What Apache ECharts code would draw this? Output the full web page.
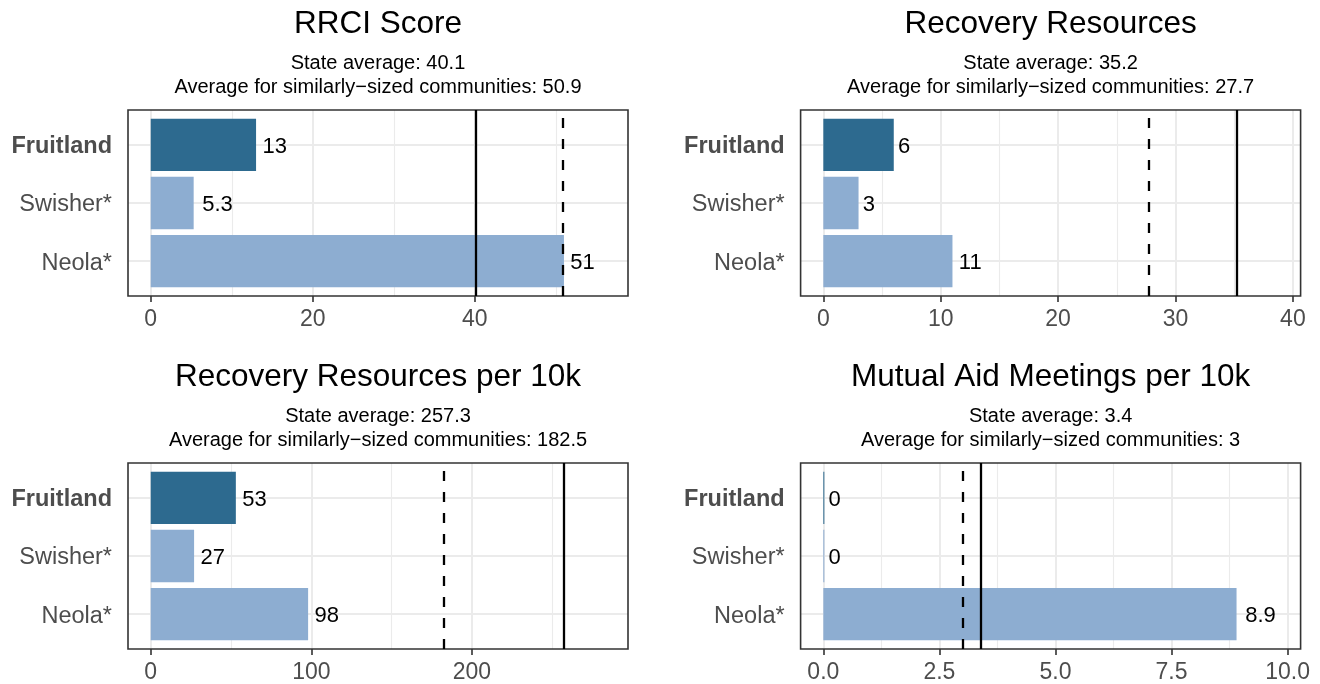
<!DOCTYPE html>
<html>
<head>
<meta charset="utf-8">
<script src="https://cdn.jsdelivr.net/npm/echarts@6/dist/echarts.min.js"></script>
<style>
html,body{margin:0;padding:0;background:#fff;}
#chart{width:1320px;height:684px;}
</style>
</head>
<body>
<div id="chart"></div>
<script>
// ---------- data ----------
const categories = ['Fruitland', 'Swisher*', 'Neola*'];
const panelTitles = ['RRCI Score', 'Recovery Resources', 'Recovery Resources per 10k', 'Mutual Aid Meetings per 10k'];
const rrciValues = [13, 5.3, 51];
const resourcesValues = [6, 3, 11];
const resourcesPer10kValues = [53, 27, 98];
const meetingsPer10kValues = [0, 0, 8.9];
const stateAverages = [40.1, 35.2, 257.3, 3.4];
const similarAverages = [50.9, 27.7, 182.5, 3];
const majorTicks = [[0, 20, 40], [0, 10, 20, 30, 40], [0, 100, 200], [0, 2.5, 5, 7.5, 10]];
const minorTicks = [[10, 30, 50], [5, 15, 25, 35], [50, 150, 250], [1.25, 3.75, 6.25, 8.75]];
const tickLabels = [['0', '20', '40'], ['0', '10', '20', '30', '40'], ['0', '100', '200'], ['0.0', '2.5', '5.0', '7.5', '10.0']];

const seriesValues = [rrciValues, resourcesValues, resourcesPer10kValues, meetingsPer10kValues];

// ---------- layout / style ----------
const FONT = "'Liberation Sans', Arial, Helvetica, sans-serif";
const panelLeft = [128, 800.6, 128, 800.6];
const panelTop = [110, 110, 463, 463];
const panelW = 500, panelH = 186;
const darkBlue = '#2D6A8F', lightBlue = '#8DADD1';

const grids = [], xAxes = [], yAxes = [], series = [], graphics = [];

for (let p = 0; p < 4; p++) {
  const vals = seriesValues[p];
  const L = 1.1 * Math.max(...vals, stateAverages[p], similarAverages[p]);
  const xmin = -0.05 * L, xmax = 1.05 * L;
  const gOuter = 2 * p, gInner = 2 * p + 1;
  const innerTop = panelTop[p] + panelH * 0.1 / 3.2;
  const innerH = panelH * 3 / 3.2;

  grids.push({
    left: panelLeft[p], top: panelTop[p], width: panelW, height: panelH,
    show: true, borderColor: '#333333', borderWidth: 1.6, backgroundColor: 'transparent',
    z: 3, outerBoundsMode: 'none', containLabel: false
  });
  grids.push({
    left: panelLeft[p], top: innerTop, width: panelW, height: innerH,
    show: false, outerBoundsMode: 'none', containLabel: false
  });

  const ticks = majorTicks[p], labs = tickLabels[p];
  xAxes.push({
    type: 'value', gridIndex: gOuter, min: xmin, max: xmax,
    axisLine: { show: false },
    axisTick: { show: true, customValues: ticks, length: 6, lineStyle: { color: '#333333', width: 1.6 } },
    axisLabel: {
      show: true, customValues: ticks, margin: 12, color: '#4d4d4d', fontSize: 23, fontFamily: FONT,
      formatter: function (v) {
        const i = ticks.findIndex(t => Math.abs(t - v) < 1e-9);
        return i >= 0 ? labs[i] : '';
      }
    },
    splitLine: { show: false }, minorSplitLine: { show: false }
  });
  xAxes.push({ type: 'value', gridIndex: gInner, min: xmin, max: xmax, show: false, splitLine: { show: false } });

  yAxes.push({ type: 'value', gridIndex: gOuter, min: 0, max: 1, show: false, splitLine: { show: false } });
  yAxes.push({
    type: 'category', gridIndex: gInner, data: categories, inverse: true,
    axisLine: { show: false },
    axisTick: { show: true, alignWithLabel: true, length: 6, lineStyle: { color: '#333333', width: 1.6 } },
    axisLabel: {
      interval: 0, margin: 16,
      formatter: function (v, i) { return i === 0 ? '{b|' + v + '}' : '{n|' + v + '}'; },
      rich: {
        b: { fontWeight: 'bold', fontSize: 23.5, color: '#4d4d4d', fontFamily: FONT, padding: [4, 0, 0, 0] },
        n: { fontSize: 23.5, color: '#4d4d4d', fontFamily: FONT, padding: [4, 0, 0, 0] }
      }
    },
    splitLine: { show: false }
  });

  // vertical grid lines (major + minor)
  series.push({
    type: 'line', xAxisIndex: gOuter, yAxisIndex: gOuter, data: [], silent: true,
    markLine: {
      silent: true, z: 1, symbol: ['none', 'none'], label: { show: false }, animation: false,
      emphasis: { disabled: true },
      data: minorTicks[p].map(v => ({ xAxis: v, lineStyle: { color: '#ebebeb', width: 1.1, type: 'solid' } }))
        .concat(ticks.map(v => ({ xAxis: v, lineStyle: { color: '#ebebeb', width: 2, type: 'solid' } })))
    }
  });
  // horizontal grid lines at categories
  series.push({
    type: 'line', xAxisIndex: gInner, yAxisIndex: gInner, data: [], silent: true,
    markLine: {
      silent: true, z: 1, symbol: ['none', 'none'], label: { show: false }, animation: false,
      emphasis: { disabled: true },
      data: categories.map((c, i) => ({ yAxis: i, lineStyle: { color: '#ebebeb', width: 2, type: 'solid' } }))
    }
  });
  // bars
  series.push({
    type: 'bar', xAxisIndex: gInner, yAxisIndex: gInner, barWidth: '90%', barMinHeight: 1, z: 2,
    silent: true, animation: false,
    data: vals.map((v, i) => {
      const txt = String(Number(v.toPrecision(2)));
      return {
        value: v,
        itemStyle: { color: i === 0 ? darkBlue : lightBlue },
        label: { distance: 2 + 2.2 * txt.length }
      };
    }),
    label: {
      show: true, position: 'right', color: '#000', fontSize: 22, fontFamily: FONT, offset: [0, 2],
      formatter: function (d) { return String(Number(Number(d.value).toPrecision(2))); }
    }
  });
  // reference lines
  series.push({
    type: 'line', xAxisIndex: gOuter, yAxisIndex: gOuter, data: [], silent: true,
    markLine: {
      silent: true, z: 6, symbol: ['none', 'none'], label: { show: false }, animation: false,
      emphasis: { disabled: true },
      data: [
        { xAxis: stateAverages[p], lineStyle: { color: '#000', width: 2.3, type: 'solid' } },
        { xAxis: similarAverages[p], lineStyle: { color: '#000', width: 2.3, type: [10, 11] } }
      ]
    }
  });

  // titles
  const cx = panelLeft[p] + panelW / 2;
  const dy = panelTop[p] - 110;
  graphics.push({
    type: 'text', x: cx, y: 24 + dy, silent: true,
    style: { text: panelTitles[p], fontSize: 31.5, fontFamily: FONT, fill: '#000',
      align: 'center', verticalAlign: 'middle', textAlign: 'center', textVerticalAlign: 'middle' }
  });
  graphics.push({
    type: 'text', x: cx, y: 63.5 + dy, silent: true,
    style: { text: 'State average: ' + stateAverages[p], fontSize: 20, fontFamily: FONT, fill: '#000',
      align: 'center', verticalAlign: 'middle', textAlign: 'center', textVerticalAlign: 'middle' }
  });
  graphics.push({
    type: 'text', x: cx, y: 87 + dy, silent: true,
    style: { text: 'Average for similarly\u2212sized communities: ' + similarAverages[p], fontSize: 20, fontFamily: FONT, fill: '#000',
      align: 'center', verticalAlign: 'middle', textAlign: 'center', textVerticalAlign: 'middle' }
  });
}

const chart = echarts.init(document.getElementById('chart'), null, { renderer: 'canvas' });
chart.setOption({
  animation: false,
  backgroundColor: '#ffffff',
  grid: grids,
  xAxis: xAxes,
  yAxis: yAxes,
  series: series,
  graphic: graphics
});
</script>
</body>
</html>
